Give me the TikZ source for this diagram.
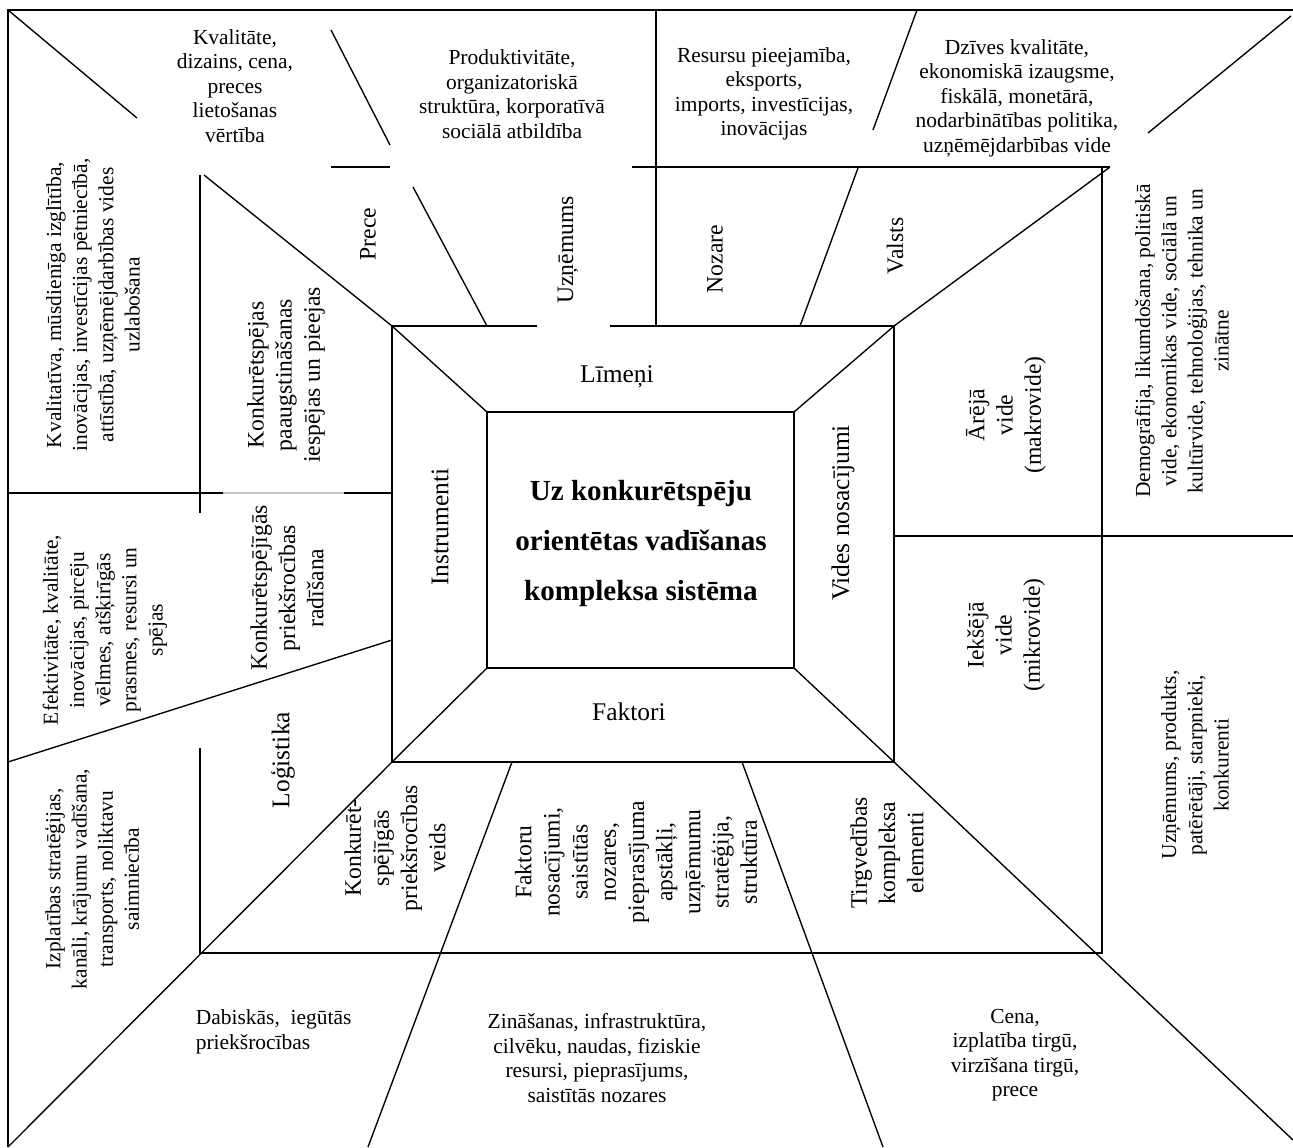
\documentclass[tikz,border=0pt]{standalone}
\usepackage{fontspec}
\setmainfont{Liberation Serif}
\begin{document}
\begin{tikzpicture}[x=0.55pt,y=-0.55pt,line width=0.95pt,
  thin line/.style={line width=0.75pt},
  outer txt/.style={align=center,inner sep=0pt,font=\fontsize{11.8}{13.5}\selectfont},
  outer rot/.style={outer txt,rotate=90,font=\fontsize{11.8}{14.4}\selectfont},
  mid rot/.style={outer txt,rotate=90,font=\fontsize{13}{15.5}\selectfont},
  level/.style={inner sep=0pt,rotate=90,font=\fontsize{13}{15}\selectfont},
  part/.style={inner sep=0pt,font=\fontsize{14}{16}\selectfont}]
\useasboundingbox (0,0) rectangle (1293,1147);
\coordinate (A1) at (487,412); \coordinate (A2) at (794,412);
\coordinate (A3) at (794,668); \coordinate (A4) at (487,668);
\coordinate (B1) at (392,326); \coordinate (B2) at (894,326);
\coordinate (B3) at (894,762); \coordinate (B4) at (392,762);
\draw (1293,10) -- (8,10) -- (8,1147);
\draw (A1) rectangle (A3);
\draw (610,326) -- (B2) -- (B3) -- (B4) -- (B1) -- (537,326);
\foreach \a/\b in {A1/B1,A2/B2,A3/B3,A4/B4}
  \draw[thin line] (\a) -- (\b);
\draw[thin line] (8,10) -- (137,118) (204,175) -- (B1);
\draw[thin line] (B2) -- (1110,167) (1148,133) -- (1291,16);
\draw[thin line] (B4) -- (8,1147);
\draw[thin line] (B3) -- (1293,1140);
\draw (200,175) -- (200,513) (200,748) -- (200,953) -- (1102,953) -- (1102,167)
      (1110,167) -- (632,167) (331,167) -- (390,167);
\draw (656,10) -- (656,326);
\draw[thin line] (331,30) -- (390,145) (413,187) -- (487,326);
\draw[thin line] (917,10) -- (873,130) (858,168) -- (800,326);
\draw (8,493) -- (223,493) (344,493) -- (392,493);
\draw[thin line,gray!45] (223,493) -- (344,493);
\draw[thin line] (8,762) -- (392,640);
\draw (894,536) -- (1293,536);
\draw[thin line] (512,762) -- (368,1147) (742,762) -- (883,1147);

\node[font=\fontsize{16}{27.5}\selectfont\bfseries,align=center] (core) at (641,543)
  {Uz konkurētspēju\\orientētas vadīšanas\\kompleksa sistēma};
\node[part] (levels) at (617,377) {Līmeņi};
\node[part] (factors) at (629,712) {Faktori};
\node[part,rotate=90] (tools) at (440,527) {Instrumenti};
\node[part,rotate=90] (env) at (843,513) {Vides nosacījumi};

\node[level] (prece) at (368,234) {Prece};
\node[level] (firm) at (568,250) {Uzņēmums};
\node[level] (branch) at (715,259) {Nozare};
\node[level] (state) at (895,246) {Valsts};
\node[outer txt] (prece-t) at (235,86) {Kvalitāte,\\dizains, cena,\\preces\\lietošanas\\vērtība};
\node[outer txt] (firm-t) at (512,94) {Produktivitāte,\\organizatoriskā\\struktūra, korporatīvā\\sociālā atbildība};
\node[outer txt] (branch-t) at (764,94) {Resursu pieejamība,\\eksports,\\imports, investīcijas,\\inovācijas};
\node[outer txt] (state-t) at (1017,98) {Dzīves kvalitāte,\\ekonomiskā izaugsme,\\fiskālā, monetārā,\\nodarbinātības politika,\\uzņēmējdarbības vide};

\node[mid rot] (raise) at (286,375) {Konkurētspējas\\paaugstināšanas\\iespējas un pieejas};
\node[outer rot] (raise-t) at (93,305) {Kvalitatīva, mūsdienīga izglītība,\\inovācijas, investīcijas pētniecībā,\\attīstībā, uzņēmējdarbības vides\\uzlabošana};
\node[mid rot] (create) at (287,588) {Konkurētspējīgās\\priekšrocības\\radīšana};
\node[outer rot] (create-t) at (105,630) {Efektivitāte, kvalitāte,\\inovācijas, pircēju\\vēlmes, atšķirīgās\\prasmes, resursi un\\spējas};
\node[part,rotate=90] (logist) at (283,760) {Loģistika};
\node[outer rot] (logist-t) at (92,879) {Izplatības stratēģijas,\\kanāli, krājumu vadīšana,\\transports, noliktavu\\saimniecība};

\node[mid rot] (kind) at (395,848) {Konkurēt-\\spējīgās\\priekšrocības\\veids};
\node[outer txt,anchor=west,align=left] (kind-t) at (195,1032) {Dabiskās,~ iegūtās\\priekšrocības};
\node[mid rot] (cond) at (636,862) {Faktoru\\nosacījumi,\\saistītās\\nozares,\\pieprasījuma\\apstākļi,\\uzņēmumu\\stratēģija,\\struktūra};
\node[outer txt] (cond-t) at (597,1058) {Zināšanas, infrastruktūra,\\cilvēku, naudas, fiziskie\\resursi, pieprasījums,\\saistītās nozares};
\node[mid rot] (mix) at (887,853) {Tirgvedības\\kompleksa\\elementi};
\node[outer txt] (mix-t) at (1015,1055) {Cena,\\izplatība tirgū,\\virzīšana tirgū,\\prece};

\node[mid rot] (macro) at (1006,415) {Ārējā\\vide\\(makrovide)};
\node[outer rot] (macro-t) at (1182,341) {Demogrāfija, likumdošana, politiskā\\vide, ekonomikas vide, sociālā un\\kultūrvide, tehnoloģijas, tehnika un\\zinātne};
\node[mid rot] (micro) at (1006,635) {Iekšējā\\vide\\(mikrovide)};
\node[outer rot] (micro-t) at (1195,765) {Uzņēmums, produkts,\\patērētāji, starpnieki,\\konkurenti};
\end{tikzpicture}
\end{document}
